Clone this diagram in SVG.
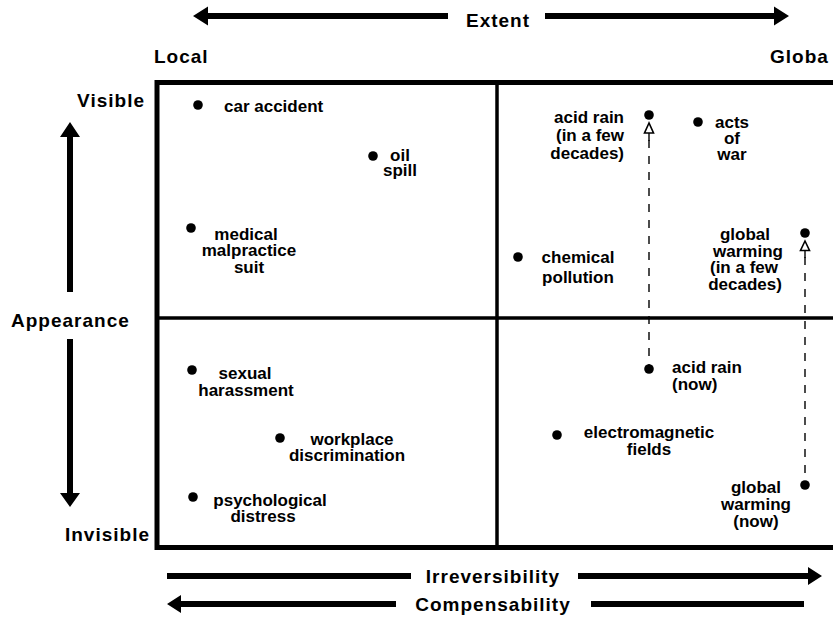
<svg xmlns="http://www.w3.org/2000/svg" width="833" height="623" viewBox="0 0 833 623">
<style>
text{font-family:"Liberation Sans",Arial,sans-serif;font-weight:bold;font-size:17px;fill:#000}
.ax{font-size:19px;letter-spacing:1px}
.c{text-anchor:middle}
.e{text-anchor:end}
.dot{fill:#000}
.dash{stroke:#000;stroke-width:1.4;stroke-dasharray:8,8;fill:none}
.tri{fill:#fff;stroke:#000;stroke-width:1.6}
.frame{stroke:#000;fill:none}
</style>
<rect width="833" height="623" fill="#fff"/>
<g id="axes">
  <path d="M193,16 L208,6.5 L208,13 L448,13 L448,19 L208,19 L208,25.5 Z"/>
  <path d="M789,16 L774,6.5 L774,13 L545,13 L545,19 L774,19 L774,25.5 Z"/>
  <text class="ax c" x="498" y="27">Extent</text>
  <text class="ax" x="154" y="63">Local</text>
  <text class="ax" x="770" y="63">Globa</text>
  <path d="M70,122 L60,137 L67,137 L67,292 L73,292 L73,137 L80,137 Z"/>
  <path d="M70,507 L60,493 L67,493 L67,339 L73,339 L73,493 L80,493 Z"/>
  <text class="ax e" x="145" y="107">Visible</text>
  <text class="ax" x="11" y="327">Appearance</text>
  <text class="ax e" x="150" y="541">Invisible</text>
  <rect x="167" y="573" width="244" height="6"/>
  <path d="M822,576 L808,567 L808,573 L578,573 L578,579 L808,579 L808,585 Z"/>
  <text class="ax c" x="493" y="583">Irreversibility</text>
  <path d="M167,604 L181,595 L181,601 L396,601 L396,607 L181,607 L181,613 Z"/>
  <rect x="591" y="601" width="213" height="6"/>
  <text class="ax c" x="493" y="611">Compensability</text>
</g>
<g id="frame">
  <path class="frame" stroke-width="5" d="M840,82.5 L157,82.5 L157,547.5 L840,547.5"/>
  <line class="frame" stroke-width="3.5" x1="157" y1="318" x2="840" y2="318"/>
  <line class="frame" stroke-width="3.5" x1="497" y1="82" x2="497" y2="548"/>
</g>
<g id="connectors">
  <line class="dash" x1="649" y1="140" x2="649" y2="369"/>
  <line class="dash" x1="805" y1="257" x2="805" y2="485"/>
  <path class="tri" d="M649,123 L644.5,133 L653.5,133 Z"/>
  <line x1="649" y1="133" x2="649" y2="141" stroke="#000" stroke-width="1.4"/>
  <path class="tri" d="M805,241 L800.5,250.5 L809.5,250.5 Z"/>
  <line x1="805" y1="250.5" x2="805" y2="258" stroke="#000" stroke-width="1.4"/>
</g>
<g id="car-accident"><circle class="dot" cx="198" cy="105" r="4.8"/><text x="224" y="112">car accident</text></g>
<g id="oil-spill"><circle class="dot" cx="373" cy="156" r="4.8"/><text class="c" x="400" y="161">oil</text><text class="c" x="400" y="176">spill</text></g>
<g id="medical"><circle class="dot" cx="191" cy="228" r="4.8"/><text class="c" x="246" y="240">medical</text><text class="c" x="249" y="256">malpractice</text><text class="c" x="249" y="273">suit</text></g>
<g id="chemical"><circle class="dot" cx="518" cy="257" r="4.8"/><text class="c" x="578" y="263">chemical</text><text class="c" x="578" y="283">pollution</text></g>
<g id="acid-rain-future"><circle class="dot" cx="649" cy="115" r="4.8"/><text class="e" x="624" y="123">acid rain</text><text class="e" x="624" y="141">(in a few</text><text class="e" x="624" y="159">decades)</text></g>
<g id="acts-of-war"><circle class="dot" cx="698" cy="122" r="4.8"/><text class="c" x="732" y="128">acts</text><text class="c" x="732" y="144">of</text><text class="c" x="732" y="160">war</text></g>
<g id="global-warming-future"><circle class="dot" cx="805" cy="233" r="4.8"/><text class="c" x="745" y="240">global</text><text class="c" x="748" y="257">warming</text><text class="c" x="744" y="273">(in a few</text><text class="c" x="745" y="290">decades)</text></g>
<g id="acid-rain-now"><circle class="dot" cx="649" cy="369" r="4.8"/><text x="672" y="373">acid rain</text><text x="672" y="390">(now)</text></g>
<g id="electromagnetic"><circle class="dot" cx="557" cy="435" r="4.8"/><text class="c" x="649" y="438">electromagnetic</text><text class="c" x="649" y="455">fields</text></g>
<g id="global-warming-now"><circle class="dot" cx="805" cy="485" r="4.8"/><text class="c" x="756" y="493">global</text><text class="c" x="756" y="510">warming</text><text class="c" x="756" y="527">(now)</text></g>
<g id="sexual"><circle class="dot" cx="192" cy="370" r="4.8"/><text class="c" x="245" y="379">sexual</text><text class="c" x="246" y="396">harassment</text></g>
<g id="workplace"><circle class="dot" cx="280" cy="438" r="4.8"/><text class="c" x="352" y="445">workplace</text><text class="c" x="347" y="461">discrimination</text></g>
<g id="psychological"><circle class="dot" cx="193" cy="497" r="4.8"/><text class="c" x="270" y="506">psychological</text><text class="c" x="263" y="522">distress</text></g>
</svg>
